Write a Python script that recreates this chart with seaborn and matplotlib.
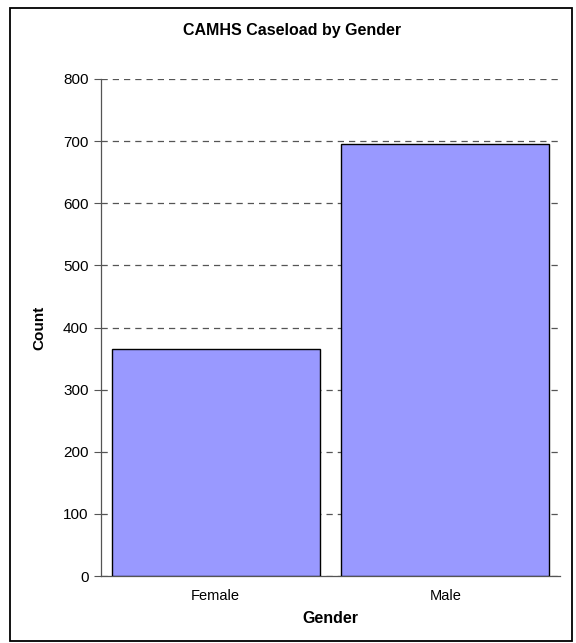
import pandas as pd
import matplotlib
matplotlib.use("Agg")
import matplotlib.pyplot as plt
import seaborn as sns
from matplotlib.patches import Rectangle

# values
genders = ["Female", "Male"]
counts = [365, 695]
y_ticks = [0, 100, 200, 300, 400, 500, 600, 700, 800]

df = pd.DataFrame({"Gender": genders, "Count": counts})

sns.set_style("white")
plt.rcParams["font.family"] = ["Liberation Sans", "DejaVu Sans"]
plt.rcParams["text.color"] = "black"
plt.rcParams["axes.labelcolor"] = "black"
plt.rcParams["xtick.labelcolor"] = "black"
plt.rcParams["ytick.labelcolor"] = "black"

fig = plt.figure(figsize=(5.76, 6.43), dpi=100)
ax = fig.add_axes([101 / 576, 1 - 576 / 643, 459 / 576, 497 / 643])

sns.barplot(data=df, x="Gender", y="Count", color="#9999FF", edgecolor="black",
            linewidth=1.0, width=0.905, saturation=1, ax=ax, zorder=3)

ax.set_ylim(0, 800)
ax.set_xlim(-0.5, 1.5)
ax.set_yticks(y_ticks)
ax.set_yticklabels([str(v) for v in y_ticks], fontsize=11)
ax.yaxis.grid(True, linestyle=(0, (5, 4)), color="#555555", linewidth=0.9, zorder=0)
ax.set_axisbelow(True)

# category boundaries get the small ticks, labels sit in the middle
ax.set_xticks([0, 1])
ax.set_xticklabels(genders, fontsize=10.5)
ax.set_xticks([-0.5, 0.5, 1.5], minor=True)
ax.tick_params(axis="x", which="major", length=0, pad=9)
ax.tick_params(axis="x", which="minor", length=4, width=0.8, color="#555555", direction="out")
ax.tick_params(axis="y", length=5, width=0.8, color="#555555", direction="out", pad=4, left=True)

for side in ["top", "right"]:
    ax.spines[side].set_visible(False)
for side in ["left", "bottom"]:
    ax.spines[side].set_color("#555555")
    ax.spines[side].set_linewidth(0.9)

ax.set_xlabel("Gender", fontsize=11.5, fontweight="bold", labelpad=6)
ax.set_ylabel("Count", fontsize=11, fontweight="bold", labelpad=12)
fig.text(292 / 576, 1 - 30 / 643, "CAMHS Caseload by Gender", ha="center", va="center",
         fontsize=11.5, fontweight="bold")

# outer chart border
fig.patches.append(Rectangle((10 / 576, 2 / 643), 562 / 576, 633 / 643,
                             transform=fig.transFigure, fill=False,
                             edgecolor="black", linewidth=1.3))

fig.savefig("out.png", dpi=100)
